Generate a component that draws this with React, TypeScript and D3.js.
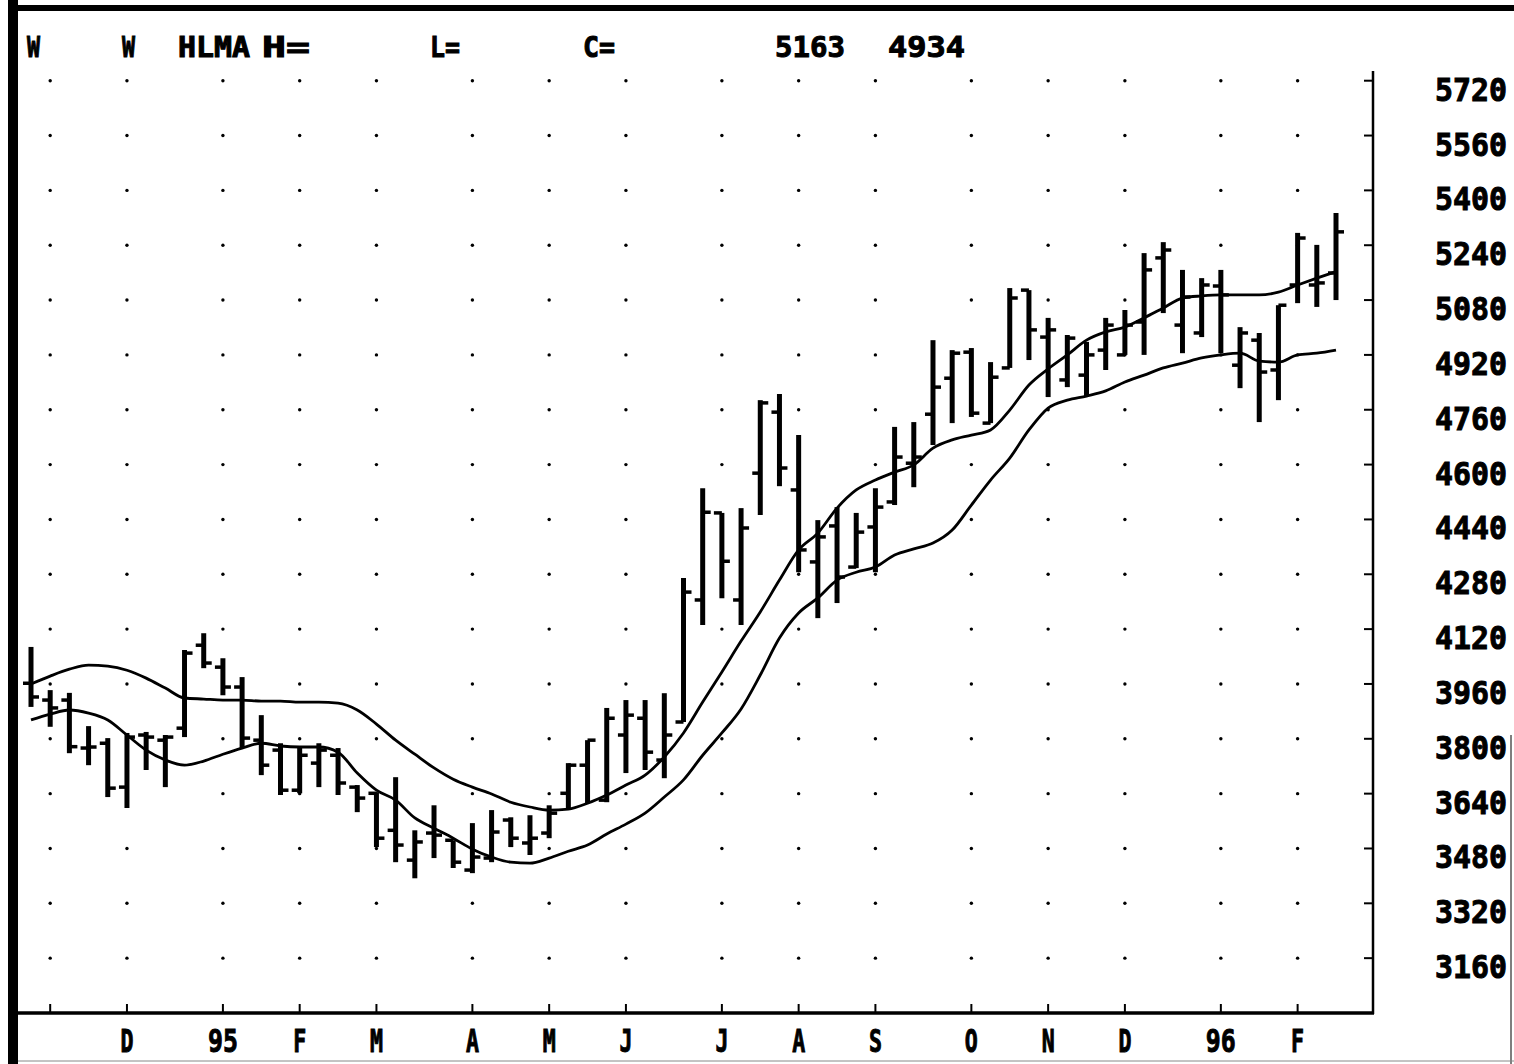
import React, { useEffect, useRef } from 'react';
import * as d3 from 'd3';

// weekly bars, Oct 28 1994 .. Feb 16 1996
const highs = [4068, 3942, 3934, 3837, 3802, 3817, 3820, 3811, 4059, 4108,
  4035, 3980, 3869, 3787, 3776, 3787, 3773, 3665, 3644, 3688,
  3533, 3606, 3504, 3554, 3592, 3571, 3577, 3606, 3729, 3796,
  3890, 3913, 3913, 3933, 4269, 4531, 4459, 4473, 4788, 4806,
  4686, 4438, 4476, 4459, 4531, 4710, 4724, 4963, 4934, 4940,
  4899, 5115, 5109, 5028, 4978, 4958, 5028, 5051, 5217, 5249,
  5168, 5144, 5168, 5001, 4984, 5065, 5276, 5241, 5334];
const lows = [3893, 3835, 3758, 3723, 3630, 3598, 3709, 3659, 3805, 4006,
  3927, 3773, 3694, 3636, 3641, 3659, 3636, 3586, 3484, 3440,
  3393, 3452, 3423, 3408, 3440, 3484, 3461, 3510, 3598, 3612,
  3615, 3700, 3709, 3685, 3849, 4132, 4210, 4132, 4453, 4537,
  4286, 4152, 4196, 4298, 4286, 4482, 4534, 4657, 4721, 4739,
  4721, 4882, 4905, 4797, 4826, 4800, 4876, 4920, 4920, 5042,
  4925, 4972, 4925, 4823, 4724, 4788, 5071, 5060, 5080];
const opens = [3962, 3913, 3913, 3773, 3787, 3659, 3811, 3796, 3831, 4073,
  4009, 3951, 3796, 3767, 3650, 3729, 3752, 3659, 3641, 3533,
  3446, 3525, 3504, 3417, 3452, 3563, 3496, 3525, 3641, 3723,
  3621, 3811, 3860, 3738, 3849, 4205, 4459, 4205, 4575, 4753,
  4526, 4316, 4421, 4301, 4418, 4491, 4604, 4747, 4852, 4928,
  4721, 4882, 5109, 4972, 4847, 4861, 4934, 4920, 5016, 5203,
  5007, 4984, 5121, 4890, 4963, 4876, 5124, 5124, 5159];
const closes = [3922, 3890, 3777, 3776, 3656, 3805, 3805, 3805, 4050, 4021,
  3951, 3802, 3723, 3650, 3752, 3767, 3671, 3627, 3510, 3490,
  3499, 3519, 3440, 3455, 3528, 3510, 3510, 3583, 3723, 3796,
  3860, 3869, 3761, 3811, 4228, 4461, 4318, 4415, 4780, 4590,
  4351, 4389, 4272, 4403, 4476, 4622, 4622, 4826, 4925, 4750,
  4855, 5086, 4993, 4993, 4969, 4920, 5007, 5007, 5168, 5226,
  5089, 5124, 5095, 4984, 4870, 5065, 5261, 5130, 5279];

// moving average of highs and of lows
const maHigh = [3960, 3983, 4003, 4015, 4012, 4000, 3977, 3948, 3919, 3916,
  3913, 3913, 3910, 3910, 3907, 3907, 3904, 3884, 3843, 3796,
  3755, 3715, 3682, 3659, 3639, 3615, 3601, 3592, 3595, 3612,
  3636, 3665, 3694, 3747, 3817, 3907, 3995, 4085, 4170, 4263,
  4351, 4400, 4473, 4526, 4555, 4578, 4599, 4648, 4672, 4686,
  4701, 4759, 4832, 4879, 4920, 4963, 4987, 5001, 5028, 5057,
  5086, 5092, 5095, 5095, 5095, 5103, 5124, 5144, 5163];
const maLow = [3855, 3872, 3884, 3875, 3855, 3811, 3767, 3738, 3723, 3735,
  3755, 3773, 3787, 3779, 3776, 3776, 3761, 3700, 3650, 3621,
  3569, 3539, 3510, 3478, 3455, 3440, 3437, 3452, 3472, 3490,
  3522, 3551, 3583, 3630, 3680, 3752, 3817, 3887, 3986, 4094,
  4167, 4211, 4263, 4286, 4301, 4336, 4354, 4371, 4409, 4482,
  4555, 4619, 4701, 4765, 4788, 4800, 4815, 4841, 4861, 4882,
  4896, 4911, 4920, 4925, 4902, 4899, 4920, 4925, 4934];

const monthLabels = ['', 'D', '95', 'F', 'M', 'A', 'M', 'J', 'J', 'A', 'S', 'O', 'N', 'D', '96', 'F'];
const yTicks = [3160, 3320, 3480, 3640, 3800, 3960, 4120, 4280, 4440, 4600, 4760, 4920, 5080, 5240, 5400, 5560, 5720];
const headerLabels = ['W', 'W', 'HLMA', 'H=', 'L=', 'C='];

const FONT = "'DejaVu Sans Mono', 'Liberation Mono', monospace";

export default function App() {
  const svgRef = useRef<SVGSVGElement | null>(null);

  useEffect(() => {
    if (!svgRef.current) return;
    const width = 1514;
    const height = 1064;
    const svg = d3.select(svgRef.current);
    svg.selectAll('*').remove();
    svg.attr('width', width).attr('height', height);

    const weeks = d3.timeFriday.range(new Date(1994, 9, 28), new Date(1996, 1, 17));
    const x = d3.scaleTime()
      .domain([weeks[0], weeks[weeks.length - 1]])
      .range([31, 1336]);
    const y = d3.scaleLinear().domain([3000, 5720]).range([1013, 80.7]);

    // first week of each month gets a tick
    const monthWeeks = weeks.filter((d, i) => i > 0 && d.getMonth() !== weeks[i - 1].getMonth());

    svg.append('rect').attr('width', width).attr('height', height).attr('fill', '#fff');

    // frame of the scanned page
    svg.append('rect').attr('x', 8).attr('y', 0).attr('width', 10).attr('height', height).attr('fill', '#000');
    svg.append('rect').attr('x', 8).attr('y', 5).attr('width', width - 8).attr('height', 6).attr('fill', '#000');
    svg.append('line').attr('x1', 1511).attr('x2', 1511).attr('y1', 735).attr('y2', height)
      .attr('stroke', '#555').attr('stroke-width', 1.5);
    svg.append('line').attr('x1', 18).attr('x2', 1514).attr('y1', 1061).attr('y2', 1061)
      .attr('stroke', '#888').attr('stroke-width', 1);

    // dot grid
    const grid = svg.append('g');
    yTicks.forEach(v => {
      monthWeeks.forEach(d => {
        grid.append('circle').attr('cx', x(d)).attr('cy', y(v)).attr('r', 1.7).attr('fill', '#000');
      });
    });

    // moving averages
    const line = d3.line<number>()
      .x((_, i) => x(weeks[i]))
      .y(v => y(v))
      .curve(d3.curveMonotoneX);
    [maHigh, maLow].forEach(s => {
      svg.append('path').attr('d', line(s) as string)
        .attr('fill', 'none').attr('stroke', '#000').attr('stroke-width', 2.8);
    });

    // OHLC bars
    const bars = svg.append('g').attr('stroke', '#000');
    weeks.forEach((d, i) => {
      const cx = x(d);
      bars.append('line').attr('x1', cx).attr('x2', cx)
        .attr('y1', y(highs[i])).attr('y2', y(lows[i])).attr('stroke-width', 5);
      bars.append('line').attr('x1', cx - 8).attr('x2', cx)
        .attr('y1', y(opens[i])).attr('y2', y(opens[i])).attr('stroke-width', 3.5);
      bars.append('line').attr('x1', cx).attr('x2', cx + 8)
        .attr('y1', y(closes[i])).attr('y2', y(closes[i])).attr('stroke-width', 3.5);
    });

    // axes
    svg.append('line').attr('x1', 18).attr('x2', 1374).attr('y1', 1013).attr('y2', 1013)
      .attr('stroke', '#000').attr('stroke-width', 3.5);
    svg.append('line').attr('x1', 1373).attr('x2', 1373).attr('y1', 71).attr('y2', 1014)
      .attr('stroke', '#000').attr('stroke-width', 2.5);

    const heavy = (t: d3.Selection<SVGTextElement, unknown, null, undefined>, size: number) =>
      t.attr('font-family', FONT).attr('font-weight', 'bold').attr('font-size', size)
        .attr('stroke', '#000').attr('stroke-width', 1).attr('lengthAdjust', 'spacingAndGlyphs');

    yTicks.forEach(v => {
      svg.append('line').attr('x1', 1364).attr('x2', 1373).attr('y1', y(v)).attr('y2', y(v))
        .attr('stroke', '#000').attr('stroke-width', 2);
      heavy(svg.append('text').attr('x', 1435).attr('y', y(v) + 20), 32)
        .attr('textLength', 72)
        .text(String(v));
    });
    monthWeeks.forEach((d, i) => {
      svg.append('line').attr('x1', x(d)).attr('x2', x(d)).attr('y1', 1004).attr('y2', 1013)
        .attr('stroke', '#000').attr('stroke-width', 2);
      const lab = monthLabels[i];
      if (!lab) return;
      heavy(svg.append('text').attr('x', x(d)).attr('y', 1052).attr('text-anchor', 'middle'), 32)
        .attr('textLength', lab.length === 1 ? 13 : 30)
        .text(lab);
    });

    // header line
    const headerPos = [[27, 13], [122, 13], [178, 72], [262, 48], [430, 30], [583, 32]];
    const header = headerLabels.map((t, i) => ({ t, x: headerPos[i][0], w: headerPos[i][1] }));
    header.push({ t: String(maHigh[maHigh.length - 1]), x: 775, w: 70 });
    header.push({ t: String(maLow[maLow.length - 1]), x: 888, w: 77 });
    header.forEach(h => {
      heavy(svg.append('text').attr('x', h.x).attr('y', 57), 28)
        .attr('textLength', h.w)
        .text(h.t);
    });
  }, []);

  return <svg ref={svgRef} style={{ position: 'absolute', left: 0, top: 0, display: 'block' }} />;
}
